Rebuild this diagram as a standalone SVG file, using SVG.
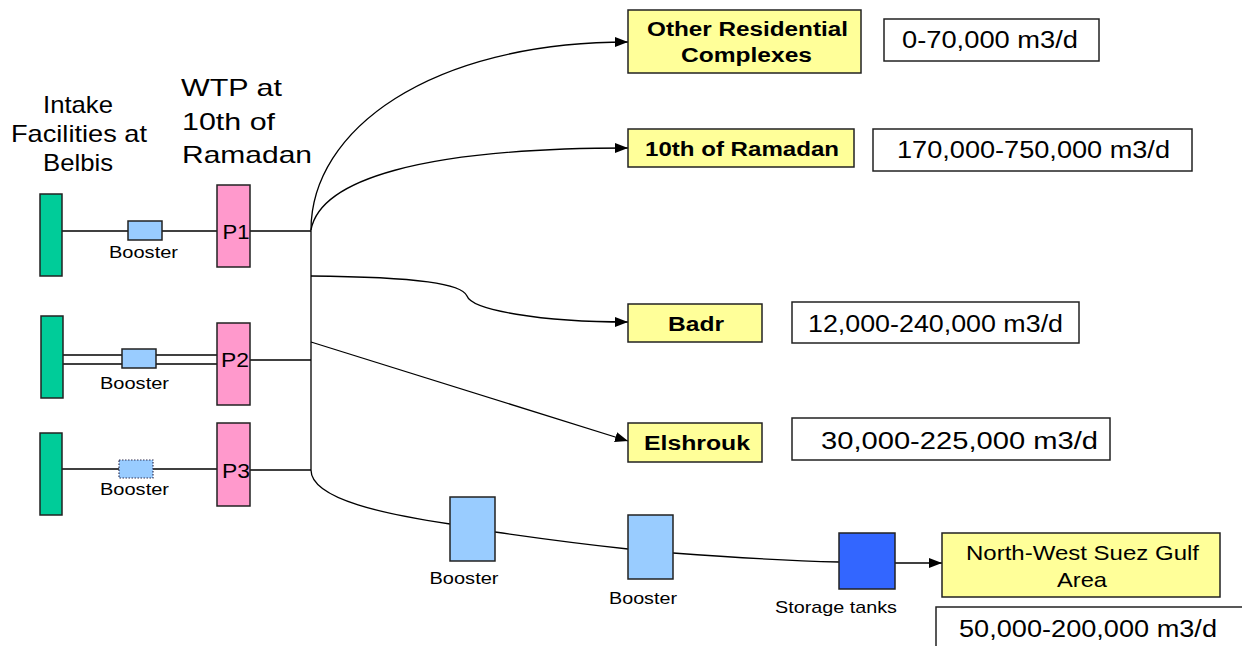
<svg xmlns="http://www.w3.org/2000/svg" width="1242" height="646" viewBox="0 0 1242 646">
<style>
text{font-family:"Liberation Sans",Arial,sans-serif;fill:#000}
.hd{font-size:24px}
.pl{font-size:21px}
.sm{font-size:17px}
.bd{font-size:20px;font-weight:bold}
.qt{font-size:23px}
.nw{font-size:21px}
.box{stroke:#222;stroke-width:1.5}
.green{fill:#00CC99}
.pink{fill:#FF99CC}
.lb{fill:#99CCFF}
.db{fill:#3366FF}
.yel{fill:#FFFF99}
.wh{fill:#FFFFFF}
.ln{fill:none;stroke:#000;stroke-width:1.3}
.arr{fill:none;stroke:#000;stroke-width:1.3;marker-end:url(#ah)}
</style>
<defs>
<marker id="ah" viewBox="0 0 13 10" refX="13" refY="5" markerWidth="13" markerHeight="10" orient="auto" markerUnits="userSpaceOnUse">
<path d="M0,0 L13,5 L0,10 z" fill="#000"/>
</marker>
</defs>
<rect width="1242" height="646" fill="#FFFFFF"/>

<g id="headers">
<text class="hd" x="78" y="113" text-anchor="middle" textLength="70" lengthAdjust="spacingAndGlyphs">Intake</text>
<text class="hd" x="79" y="142" text-anchor="middle" textLength="136" lengthAdjust="spacingAndGlyphs">Facilities at</text>
<text class="hd" x="78" y="171" text-anchor="middle" textLength="70" lengthAdjust="spacingAndGlyphs">Belbis</text>
<text class="hd" x="181" y="96" textLength="101" lengthAdjust="spacingAndGlyphs">WTP at</text>
<text class="hd" x="182" y="130" textLength="93" lengthAdjust="spacingAndGlyphs">10th of</text>
<text class="hd" x="182" y="163" textLength="130" lengthAdjust="spacingAndGlyphs">Ramadan</text>
</g>

<g id="connectors">
<line class="ln" x1="62" y1="231" x2="128" y2="231"/>
<line class="ln" x1="162" y1="231" x2="217" y2="231"/>
<line class="ln" x1="63" y1="355" x2="122" y2="355"/>
<line class="ln" x1="63" y1="364" x2="122" y2="364"/>
<line class="ln" x1="156" y1="355" x2="217" y2="355"/>
<line class="ln" x1="156" y1="364" x2="217" y2="364"/>
<line class="ln" x1="62" y1="469" x2="119" y2="469"/>
<line class="ln" x1="153" y1="469" x2="217" y2="469"/>
<line class="ln" x1="250" y1="231" x2="311" y2="231"/>
<line class="ln" x1="250" y1="360" x2="311" y2="360"/>
<line class="ln" x1="250" y1="470" x2="311" y2="470"/>
<line class="ln" x1="311" y1="230" x2="311" y2="470"/>
<path class="arr" d="M311,230 C311,130 430,42 628,42"/>
<path class="arr" d="M311,230 C320,180 420,148 628,148"/>
<path class="arr" d="M311,276 C420,277 462,284 467,296 C472,310 540,322 628,322"/>
<path class="arr" d="M311,342 L628,441"/>
<path class="ln" d="M311,470 C311,500 390,515 450,524"/>
<path class="ln" d="M495,532 C550,540 600,546 628,549"/>
<path class="ln" d="M673,553 C740,558 800,561 839,562"/>
<path class="arr" d="M895,563 L942,563"/>
</g>

<g id="intake1"><rect class="box green" x="40" y="194" width="22" height="82"/></g>
<g id="intake2"><rect class="box green" x="41" y="316" width="22" height="82"/></g>
<g id="intake3"><rect class="box green" x="40" y="433" width="22" height="82"/></g>

<g id="booster1">
<rect class="box lb" x="128" y="221" width="34" height="19"/>
<text class="sm" x="143.5" y="258" text-anchor="middle" textLength="69" lengthAdjust="spacingAndGlyphs">Booster</text>
</g>
<g id="booster2">
<rect class="box lb" x="122" y="349" width="34" height="19"/>
<text class="sm" x="134.5" y="389" text-anchor="middle" textLength="69" lengthAdjust="spacingAndGlyphs">Booster</text>
</g>
<g id="booster3">
<rect class="lb" x="119" y="460" width="34" height="18" stroke="#335" stroke-width="1.2" stroke-dasharray="1.5,1.5"/>
<text class="sm" x="134.5" y="495" text-anchor="middle" textLength="69" lengthAdjust="spacingAndGlyphs">Booster</text>
</g>

<g id="P1">
<rect class="box pink" x="217" y="185" width="33" height="82"/>
<text class="pl" x="236" y="239" text-anchor="middle" textLength="27" lengthAdjust="spacingAndGlyphs">P1</text>
</g>
<g id="P2">
<rect class="box pink" x="217" y="323" width="33" height="82"/>
<text class="pl" x="235" y="367" text-anchor="middle" textLength="28" lengthAdjust="spacingAndGlyphs">P2</text>
</g>
<g id="P3">
<rect class="box pink" x="217" y="423" width="33" height="83"/>
<text class="pl" x="236" y="478" text-anchor="middle" textLength="28" lengthAdjust="spacingAndGlyphs">P3</text>
</g>

<g id="other-residential">
<rect class="box yel" x="628" y="10" width="233" height="63"/>
<text class="bd" x="747.5" y="36" text-anchor="middle" textLength="201" lengthAdjust="spacingAndGlyphs">Other Residential</text>
<text class="bd" x="746.5" y="62" text-anchor="middle" textLength="131" lengthAdjust="spacingAndGlyphs">Complexes</text>
</g>
<g id="q-other">
<rect class="box wh" x="884" y="19" width="215" height="42"/>
<text class="qt" x="990" y="48" text-anchor="middle" textLength="176" lengthAdjust="spacingAndGlyphs">0-70,000 m3/d</text>
</g>

<g id="tenth-ramadan">
<rect class="box yel" x="628" y="129" width="226" height="38"/>
<text class="bd" x="742" y="156" text-anchor="middle" textLength="194" lengthAdjust="spacingAndGlyphs">10th of Ramadan</text>
</g>
<g id="q-tenth">
<rect class="box wh" x="873" y="129" width="319" height="42"/>
<text class="qt" x="1033.5" y="158" text-anchor="middle" textLength="273" lengthAdjust="spacingAndGlyphs">170,000-750,000 m3/d</text>
</g>

<g id="badr">
<rect class="box yel" x="628" y="304" width="134" height="38"/>
<text class="bd" x="696" y="331" text-anchor="middle" textLength="56" lengthAdjust="spacingAndGlyphs">Badr</text>
</g>
<g id="q-badr">
<rect class="box wh" x="792" y="302" width="287" height="41"/>
<text class="qt" x="935.5" y="332" text-anchor="middle" textLength="255" lengthAdjust="spacingAndGlyphs">12,000-240,000 m3/d</text>
</g>

<g id="elshrouk">
<rect class="box yel" x="628" y="423" width="134" height="39"/>
<text class="bd" x="697" y="450" text-anchor="middle" textLength="106" lengthAdjust="spacingAndGlyphs">Elshrouk</text>
</g>
<g id="q-elshrouk">
<rect class="box wh" x="792" y="418" width="318" height="42"/>
<text class="qt" x="959.5" y="449" text-anchor="middle" textLength="277" lengthAdjust="spacingAndGlyphs">30,000-225,000 m3/d</text>
</g>

<g id="boosterA">
<rect class="box lb" x="450" y="497" width="45" height="64"/>
<text class="sm" x="464" y="584" text-anchor="middle" textLength="69" lengthAdjust="spacingAndGlyphs">Booster</text>
</g>
<g id="boosterB">
<rect class="box lb" x="628" y="515" width="45" height="64"/>
<text class="sm" x="643" y="604" text-anchor="middle" textLength="68" lengthAdjust="spacingAndGlyphs">Booster</text>
</g>
<g id="storage">
<rect class="box db" x="839" y="533" width="56" height="56"/>
<text class="sm" x="836" y="613" text-anchor="middle" textLength="122" lengthAdjust="spacingAndGlyphs">Storage tanks</text>
</g>

<g id="nw-suez">
<rect class="box yel" x="942" y="533" width="278" height="64"/>
<text class="nw" x="1082.5" y="560" text-anchor="middle" textLength="233" lengthAdjust="spacingAndGlyphs">North-West Suez Gulf</text>
<text class="nw" x="1082" y="587" text-anchor="middle" textLength="50" lengthAdjust="spacingAndGlyphs">Area</text>
</g>
<g id="q-nw">
<rect class="box wh" x="936" y="607" width="320" height="60"/>
<text class="qt" x="1088" y="637" text-anchor="middle" textLength="258" lengthAdjust="spacingAndGlyphs">50,000-200,000 m3/d</text>
</g>
</svg>
